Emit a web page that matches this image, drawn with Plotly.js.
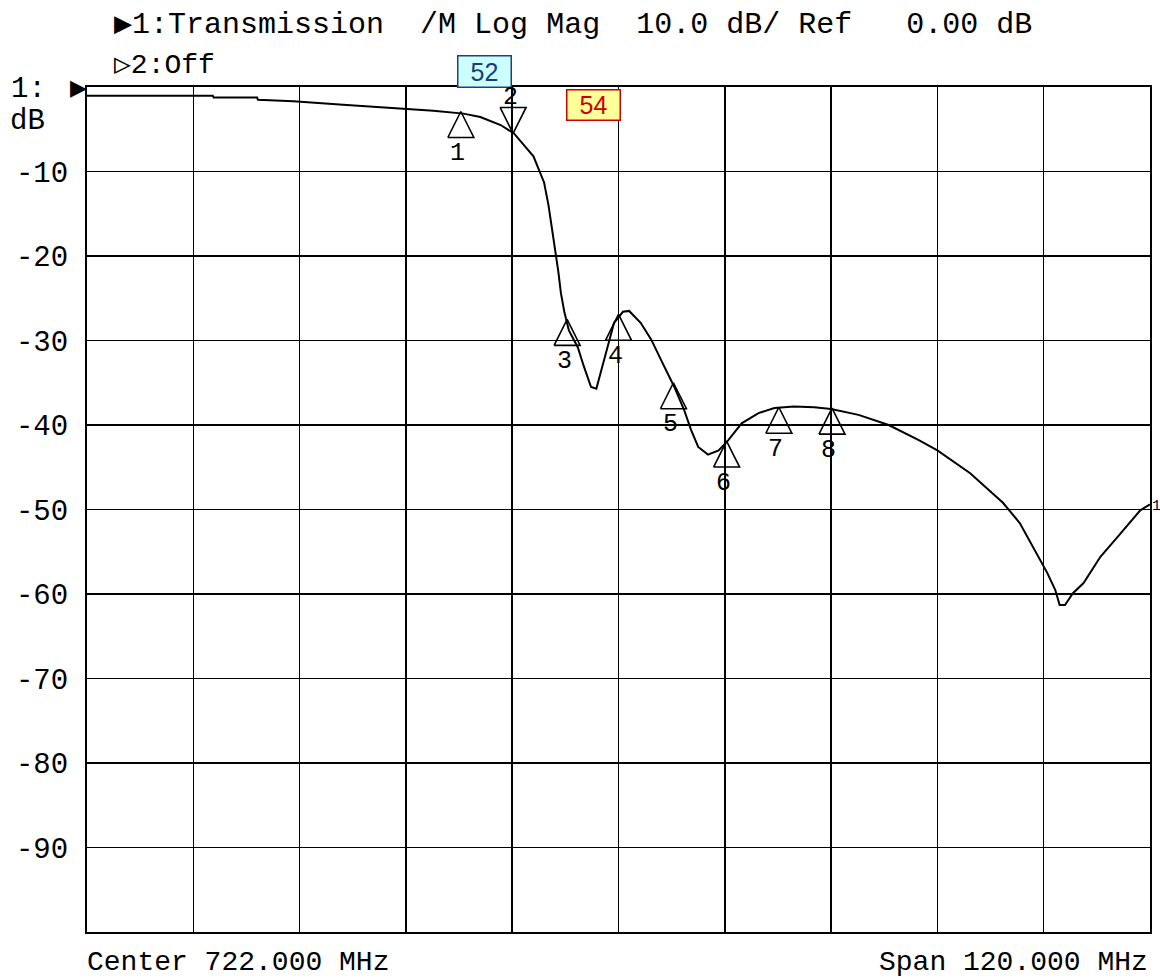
<!DOCTYPE html>
<html>
<head>
<meta charset="utf-8">
<script src="https://cdn.plot.ly/plotly-3.0.1.min.js"></script>
<style>html,body{margin:0;padding:0;background:#fff;}#chart{width:1160px;height:978px;}</style>
</head>
<body>
<div id="chart"></div>
<script>
// ---- data ----
const freqMHz = [662.0, 668.0, 676.2, 676.3, 681.2, 681.3, 685.3, 690.9, 696.3, 701.1, 704.5, 706.4, 708.7, 710.2,
  712.4, 713.6, 714.1, 714.7, 715.2, 715.5, 715.9, 716.4, 717.4, 718.1, 718.9, 719.5, 720.0, 720.8, 721.5,
  722.5, 723.2, 724.5, 725.7, 726.8, 728.3, 729.4, 730.2, 731.0, 732.1, 733.3, 734.4, 735.9, 737.8, 739.6,
  741.8, 744.1, 746.0, 749.1, 752.5, 755.9, 758.0, 761.7, 765.4, 767.3, 768.8, 770.4, 771.3, 771.8, 772.4,
  773.3, 774.5, 776.4, 778.3, 780.1, 780.9, 782.0];
const magDB = [-1.05, -1.05, -1.05, -1.25, -1.25, -1.5, -1.7, -2.1, -2.5, -2.8, -3.15, -3.55, -4.5, -5.5,
  -8.2, -11.3, -14.0, -18.1, -21.8, -24.4, -26.7, -28.8, -30.8, -33.1, -35.5, -35.7, -33.8, -30.8, -27.9,
  -26.6, -26.5, -27.9, -29.9, -32.3, -35.5, -38.2, -40.6, -42.6, -43.5, -43.0, -41.8, -39.8, -38.6, -38.0,
  -37.8, -37.9, -38.1, -38.8, -40.0, -41.8, -43.0, -45.7, -49.2, -51.6, -54.4, -57.5, -59.5, -61.3, -61.3,
  -59.9, -58.7, -55.6, -53.3, -51.0, -50.1, -49.4];

const markerNum  = ['1', '2', '3', '4', '5', '6', '7', '8'];
const markerFreq = [704.2, 710.1, 716.2, 722.0, 728.2, 734.2, 740.1, 746.1];
const markerDB   = [-2.9, -5.5, -27.5, -26.9, -35.0, -41.9, -37.9, -38.0];
const markerDir  = ['up', 'down', 'up', 'up', 'up', 'up', 'up', 'up'];

const yTickVals = [-10, -20, -30, -40, -50, -60, -70, -80, -90];
const yTickText = ['-10', '-20', '-30', '-40', '-50', '-60', '-70', '-80', '-90'];

const headerLine1 = '\u25B61:Transmission  /M Log Mag  10.0 dB/ Ref   0.00 dB';
const headerLine2 = '\u25B72:Off';
const centerText = 'Center 722.000 MHz';
const spanText = 'Span 120.000 MHz';
const boxLabels = ['52', '54'];

// ---- geometry / style ----
const xRange = [662, 782];
const yRange = [-100, 0];
const plotW = 1063, plotH = 845;
const triHalfW = 13 * (xRange[1] - xRange[0]) / plotW;
const triH = 26 * (yRange[1] - yRange[0]) / plotH;
const mono = 'Liberation Mono, DejaVu Sans Mono, monospace';

// build marker triangles from marker data
const triX = [], triY = [];
markerFreq.forEach((f, i) => {
  const d = markerDB[i];
  const s = markerDir[i] === 'up' ? -1 : 1;
  triX.push(f - triHalfW, f, f + triHalfW, f - triHalfW, null);
  triY.push(d + s * triH, d, d + s * triH, d + s * triH, null);
});

const traces = [
  {x: freqMHz, y: magDB, type: 'scatter', mode: 'lines',
   line: {color: '#000', width: 2}, hoverinfo: 'skip', showlegend: false},
  {x: triX, y: triY, type: 'scatter', mode: 'lines',
   line: {color: '#000', width: 1.6}, hoverinfo: 'skip', showlegend: false, connectgaps: false}
];

const ann = [];
const px2x = p => (p - 87) / plotW;
const py2y = p => (932 - p) / plotH;

ann.push({xref: 'paper', yref: 'paper', x: px2x(112), y: py2y(25), xanchor: 'left', yanchor: 'middle',
  text: headerLine1, showarrow: false, font: {family: mono, size: 30, color: '#000'}});
ann.push({xref: 'paper', yref: 'paper', x: px2x(112), y: py2y(66), xanchor: 'left', yanchor: 'middle',
  text: headerLine2, showarrow: false, font: {family: mono, size: 28, color: '#000'}});
ann.push({xref: 'paper', yref: 'paper', x: px2x(48), y: py2y(89), xanchor: 'right', yanchor: 'middle',
  text: '1:', showarrow: false, font: {family: mono, size: 29, color: '#000'}});
ann.push({xref: 'paper', yref: 'paper', x: px2x(89), y: py2y(88), xanchor: 'right', yanchor: 'middle',
  text: '\u25B6', showarrow: false, font: {family: 'DejaVu Sans', size: 22, color: '#000'}});
ann.push({xref: 'paper', yref: 'paper', x: px2x(8), y: py2y(121), xanchor: 'left', yanchor: 'middle',
  text: 'dB', showarrow: false, font: {family: mono, size: 29, color: '#000'}});
ann.push({xref: 'paper', yref: 'paper', x: px2x(85), y: py2y(962), xanchor: 'left', yanchor: 'middle',
  text: centerText, showarrow: false, font: {family: mono, size: 28, color: '#000'}});
ann.push({xref: 'paper', yref: 'paper', x: px2x(1150), y: py2y(962), xanchor: 'right', yanchor: 'middle',
  text: spanText, showarrow: false, font: {family: mono, size: 28, color: '#000'}});
ann.push({xref: 'paper', yref: 'paper', x: px2x(1150), y: py2y(506), xanchor: 'left', yanchor: 'middle',
  text: '1', showarrow: false, font: {family: mono, size: 15, color: '#000'}});

// boxed labels
ann.push({xref: 'paper', yref: 'paper', x: px2x(484.5), y: py2y(71.5), xanchor: 'center', yanchor: 'middle',
  text: boxLabels[0], showarrow: false, width: 50, height: 28,
  bgcolor: '#ccffff', bordercolor: '#1f3f7f', borderwidth: 1.5,
  font: {family: 'Liberation Sans, Arial, sans-serif', size: 25, color: '#1a3c78'}});
ann.push({xref: 'paper', yref: 'paper', x: px2x(593.5), y: py2y(105.5), xanchor: 'center', yanchor: 'middle',
  text: boxLabels[1], showarrow: false, width: 50, height: 27,
  bgcolor: '#ffff99', bordercolor: '#cc0000', borderwidth: 1.5,
  font: {family: 'Liberation Sans, Arial, sans-serif', size: 25, color: '#cc0000'}});

// marker numbers
markerNum.forEach((n, i) => {
  ann.push({x: markerFreq[i], y: markerDB[i], xref: 'x', yref: 'y', text: n, showarrow: false,
    xanchor: 'center', yanchor: 'middle', xshift: -3,
    yshift: markerDir[i] === 'up' ? -42 : 36,
    font: {family: mono, size: 25, color: '#000'}});
});

const layout = {
  width: 1160, height: 978,
  margin: {l: 87, r: 10, t: 87, b: 46, pad: 0},
  paper_bgcolor: '#fff', plot_bgcolor: '#fff',
  showlegend: false,
  xaxis: {range: xRange, tick0: 662, dtick: 12, showgrid: true, gridcolor: '#000', gridwidth: 1.5,
    showticklabels: false, ticks: '', zeroline: false, showline: true, linecolor: '#000', linewidth: 2,
    mirror: true, fixedrange: true},
  yaxis: {range: yRange, tickvals: yTickVals, ticktext: yTickText, showgrid: true, gridcolor: '#000',
    gridwidth: 1.5, ticks: '', ticklabelstandoff: 11, zeroline: false, showline: true, linecolor: '#000',
    linewidth: 2, mirror: true, fixedrange: true,
    tickfont: {family: mono, size: 29, color: '#000'}},
  annotations: ann
};

Plotly.newPlot('chart', traces, layout, {displayModeBar: false, staticPlot: true});
</script>
</body>
</html>
